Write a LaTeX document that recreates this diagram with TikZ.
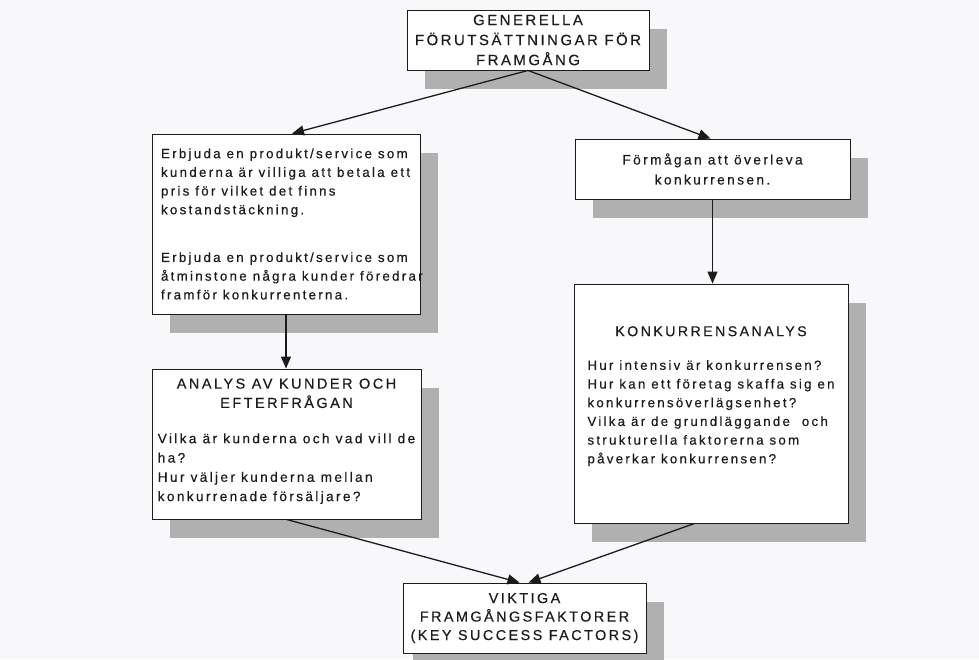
\documentclass[tikz,border=0pt]{standalone}
\usepackage{fontspec}
\setmainfont{Liberation Sans}
\newfontfamily\trackfont[LetterSpace=17,FakeBold=0.4]{Liberation Sans}
\usetikzlibrary{arrows.meta,shadows,calc}
\definecolor{ink}{HTML}{1C1C1C}
\definecolor{paper}{HTML}{F8F8FA}
\definecolor{shade}{HTML}{B0B0B0}
\newcommand{\bodysize}{\fontsize{13.7}{18.7}\selectfont}
\newcommand{\headsize}{\fontsize{14.5}{20}\selectfont}

\begin{document}
\begin{tikzpicture}[x=1pt,y=-1pt,
  box/.style={draw=ink, line width=0.9pt, fill=white, rectangle, inner sep=0pt,
    text=ink, font=\trackfont\bodysize,
    general shadow={fill=shade, shadow xshift=18pt, shadow yshift=-19pt}},
  flow/.style={draw=ink, line width=1.3pt, -{Triangle[length=12pt,width=10pt]}}
]
\fill[paper] (0,0) rectangle (979,659);
\useasboundingbox (0,0) rectangle (979,659);

% top box
\node[box, minimum width=242pt, minimum height=60pt, align=center,
      font=\trackfont\fontsize{14.9}{20}\selectfont] (gen) at (528,40)
  {GENERELLA\\ FÖRUTSÄTTNINGAR FÖR\\ FRAMGÅNG};

% left column: lines keep their own breaks and may run up to the right edge
\node[box, minimum width=268pt, minimum height=180pt, align=left,
      inner xsep=9pt, text width=250pt,
      font=\trackfont\fontsize{13.35}{18.7}\selectfont] (erb) at (286,224)
  {\spaceskip=0pt\xspaceskip=0pt\relax
   \mbox{Erbjuda en produkt/service som}\\
   \mbox{kunderna är villiga att betala ett}\\
   \mbox{pris för vilket det finns}\\
   \mbox{kostandstäckning.}\\[29pt]
   \mbox{Erbjuda en produkt/service som}\\
   \mbox{åtminstone några kunder föredrar}\\
   \mbox{framför konkurrenterna.}};

\node[box, minimum width=269pt, minimum height=150pt,
      font=\trackfont\fontsize{13.7}{19.3}\selectfont] (ana) at (286.5,444)
  {\begin{tabular}{@{}l@{}}
   \multicolumn{1}{@{}c@{}}{\headsize ANALYS AV KUNDER OCH}\\
   \multicolumn{1}{@{}c@{}}{\headsize EFTERFRÅGAN}\\[16pt]
   Vilka är kunderna och vad vill de\\
   ha?\\
   Hur väljer kunderna mellan\\
   konkurrenade försäljare?\\[6pt]
   \end{tabular}};

% right column
\node[box, minimum width=275pt, minimum height=60pt, align=center,
      font=\trackfont\fontsize{13.8}{20}\selectfont] (form) at (712.5,169)
  {Förmågan att överleva\\ konkurrensen.};

\node[box, minimum width=274pt, minimum height=239pt,
      font=\trackfont\fontsize{13.3}{18.7}\selectfont] (kon) at (711,403.5)
  {\begin{tabular}{@{}l@{}}
   \multicolumn{1}{@{}c@{}}{\fontsize{14.2}{19.5}\selectfont KONKURRENSANALYS}\\[15pt]
   Hur intensiv är konkurrensen?\\
   Hur kan ett företag skaffa sig en\\
   konkurrensöverlägsenhet?\\
   Vilka är de grundläggande\ \ och\\
   strukturella faktorerna som\\
   påverkar konkurrensen?\\[15pt]
   \end{tabular}};

% bottom box
\node[box, minimum width=243pt, minimum height=70pt, align=center,
      general shadow={fill=shade, shadow xshift=10pt, shadow yshift=-19pt},
      font=\trackfont\fontsize{14.4}{18.5}\selectfont] (vik) at (524.5,618)
  {VIKTIGA\\ FRAMGÅNGSFAKTORER\\ (KEY SUCCESS FACTORS)};

% connectors
\coordinate (kout) at ($(kon.south west)!0.44!(kon.south east)$);
\draw[flow] (gen.south) -- ($(erb.north)+(6,0)$);
\draw[flow] (gen.south) -- ($(form.north)+(-2,0)$);
\draw[flow] (erb.south) -- (erb.south |- ana.north);
\draw[flow] (form.south) -- (form.south |- kon.north);
\draw[flow] (ana.south) -- ($(vik.north)+(-5,0)$);
\draw[flow] (kout) -- ($(vik.north)+(4,0)$);
\end{tikzpicture}
\end{document}
